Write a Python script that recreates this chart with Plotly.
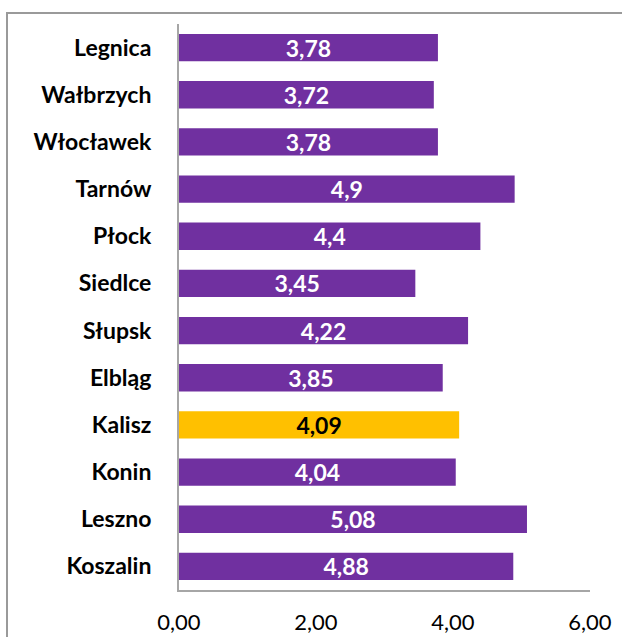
import plotly.graph_objects as go

# City scores, listed top to bottom
cities = ["Legnica", "Wałbrzych", "Włocławek", "Tarnów", "Płock", "Siedlce",
          "Słupsk", "Elbląg", "Kalisz", "Konin", "Leszno", "Koszalin"]
values = [3.78, 3.72, 3.78, 4.9, 4.4, 3.45, 4.22, 3.85, 4.09, 4.04, 5.08, 4.88]
highlight = "Kalisz"

x_ticks = [0, 2, 4, 6]

PURPLE = "#7030A0"
GOLD = "#FFC000"
FONT = "Lato"

colors = [GOLD if c == highlight else PURPLE for c in cities]
text_colors = ["#000000" if c == highlight else "#FFFFFF" for c in cities]
labels = [f"{v:g}".replace(".", ",") for v in values]

fig = go.Figure(go.Bar(
    x=values,
    y=cities,
    orientation="h",
    marker=dict(color=colors, line=dict(width=0)),
    text=labels,
    textposition="inside",
    insidetextanchor="middle",
    constraintext="none",
    textfont=dict(family=FONT, size=23, color=text_colors, weight="bold"),
    textangle=0,
    hoverinfo="skip",
))

W, H = 622, 637
ml, mr, mt, mb = 179, 32, 23.5, 47
pw, ph = W - ml - mr, H - mt - mb

def px_x(p):
    return (p - ml) / pw

def px_y(p):
    return (H - mb - p) / ph

fig.update_layout(
    width=W, height=H,
    margin=dict(l=ml, r=mr, t=mt, b=mb, autoexpand=False),
    paper_bgcolor="white",
    plot_bgcolor="white",
    bargap=0.42,
    showlegend=False,
    xaxis=dict(
        range=[0, 6],
        tickvals=x_ticks,
        ticktext=[f"{t:.2f}".replace(".", ",") for t in x_ticks],
        showgrid=False,
        zeroline=False,
        showline=True,
        linecolor="#A6A6A6",
        linewidth=2,
        ticks="",
        ticklabelstandoff=12,
        tickfont=dict(family=FONT, size=22, color="#000000"),
        fixedrange=True,
    ),
    yaxis=dict(
        categoryorder="array",
        categoryarray=cities[::-1],
        autorange=False,
        range=[-0.5, len(cities) - 0.5],
        showgrid=False,
        zeroline=False,
        showline=True,
        linecolor="#A6A6A6",
        linewidth=2,
        ticks="",
        ticklabelstandoff=21,
        tickfont=dict(family=FONT, size=23, color="#000000", weight="bold"),
        fixedrange=True,
    ),
    shapes=[dict(
        type="rect", xref="paper", yref="paper",
        x0=px_x(7), x1=px_x(640), y0=px_y(660), y1=px_y(12.5),
        line=dict(color="#9A9A9A", width=2),
        fillcolor="rgba(0,0,0,0)",
        layer="below",
    )],
)

fig.write_html("out.html")
